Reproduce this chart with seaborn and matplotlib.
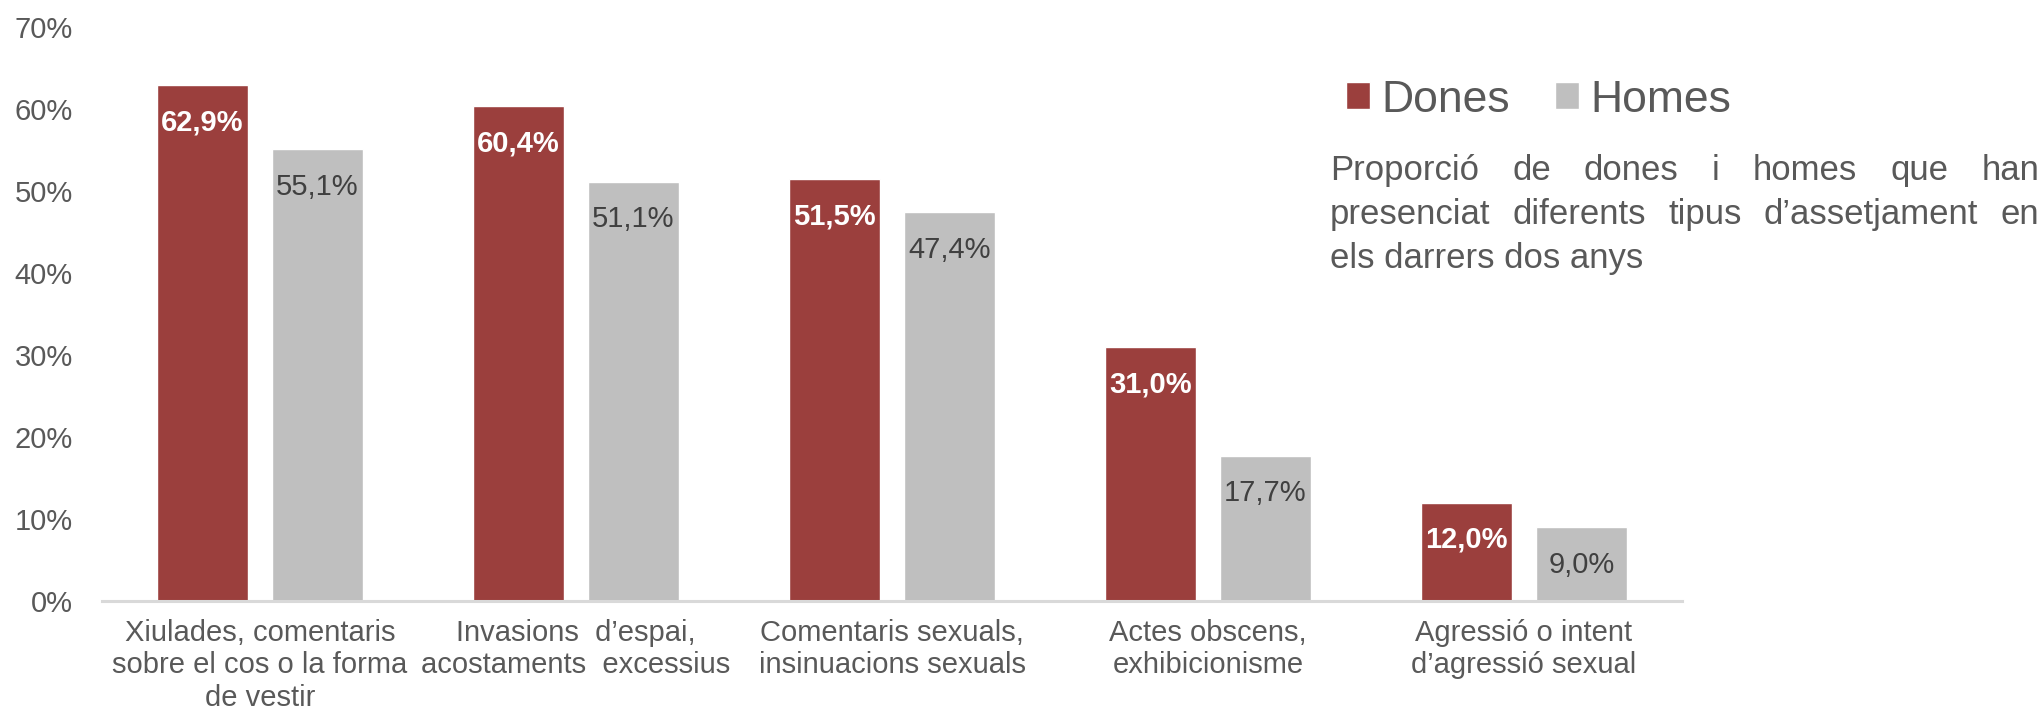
import matplotlib
matplotlib.use("Agg")
import matplotlib.pyplot as plt
import pandas as pd
import seaborn as sns

sns.set_style("white")
plt.rcParams['font.family'] = ['Liberation Sans', 'DejaVu Sans']

# data
categories = ["Xiulades, comentaris\nsobre el cos o la forma\nde vestir",
              "Invasions  d’espai,\nacostaments  excessius",
              "Comentaris sexuals,\ninsinuacions sexuals",
              "Actes obscens,\nexhibicionisme",
              "Agressió o intent\nd’agressió sexual"]
dones = [62.9, 60.4, 51.5, 31.0, 12.0]
homes = [55.1, 51.1, 47.4, 17.7, 9.0]
groups = ["Dones", "Homes"]
yticks = [0, 10, 20, 30, 40, 50, 60, 70]

text_lines = ["Proporció de dones i homes que han",
              "presenciat diferents tipus d’assetjament en",
              "els darrers dos anys"]

colors = {"Dones": "#9B3F3D", "Homes": "#BFBFBF"}
grey_txt = "#595959"

df = pd.DataFrame({
    "cat": categories * 2,
    "grup": [groups[0]] * len(dones) + [groups[1]] * len(homes),
    "valor": dones + homes,
})

W, H = 2044, 714
fig = plt.figure(figsize=(W / 100, H / 100), dpi=100)
ax = fig.add_axes([102 / W, 1 - 601 / H, (1682 - 102) / W, (601 - 27) / H])

sns.barplot(data=df, x="cat", y="valor", hue="grup", palette=colors,
            width=0.728, gap=0.21, saturation=1, errorbar=None,
            ax=ax, legend=True)

ax.set_ylim(0, 70)
ax.set_xlim(-0.5, 4.5)
ax.set_yticks(yticks)
ax.set_yticklabels([f"{v}%" for v in yticks], fontsize=21, color=grey_txt)
ax.tick_params(axis="y", length=0, pad=21)
ax.tick_params(axis="x", length=0, pad=13)
for lab in ax.get_xticklabels():
    lab.set_fontsize(21)
    lab.set_color(grey_txt)
    lab.set_linespacing(1.2)
ax.set_xlabel("")
ax.set_ylabel("")
for s in ["top", "right", "left"]:
    ax.spines[s].set_visible(False)
ax.spines["bottom"].set_color("#D9D9D9")
ax.spines["bottom"].set_linewidth(2.2)

# value labels inside the top of each bar
for cont, vals, col, wt in zip(ax.containers, [dones, homes],
                               ["white", "#404040"], ["bold", "normal"]):
    ax.bar_label(cont, labels=[f"{v:.1f}%".replace(".", ",") for v in vals],
                 padding=-37, color=col, fontsize=21, fontweight=wt)

# legend
handles, labels = ax.get_legend_handles_labels()
ax.get_legend().remove()
fig.legend(handles, labels, loc="center left",
           bbox_to_anchor=(1346 / W, 1 - 100 / H), ncol=2, frameon=False,
           fontsize=32, handlelength=0.55, handleheight=0.55,
           handletextpad=0.25, columnspacing=1.0, borderpad=0,
           borderaxespad=0, labelcolor=grey_txt)

# justified descriptive text
x0, x1 = 1330, 2039
baselines = [180, 224, 268]
renderer = fig.canvas.get_renderer()
for i, line in enumerate(text_lines):
    yb = 1 - baselines[i] / H
    words = line.split(" ")
    if i == len(text_lines) - 1:
        fig.text(x0 / W, yb, line, fontsize=25, color=grey_txt, va="baseline")
        continue
    objs = [fig.text(0, yb, w, fontsize=25, color=grey_txt, va="baseline")
            for w in words]
    widths = [o.get_window_extent(renderer).width for o in objs]
    gap = (x1 - x0 - sum(widths)) / (len(words) - 1)
    x = x0
    for o, w in zip(objs, widths):
        o.set_x(x / W)
        x += w + gap

fig.savefig("out.png", dpi=100)
